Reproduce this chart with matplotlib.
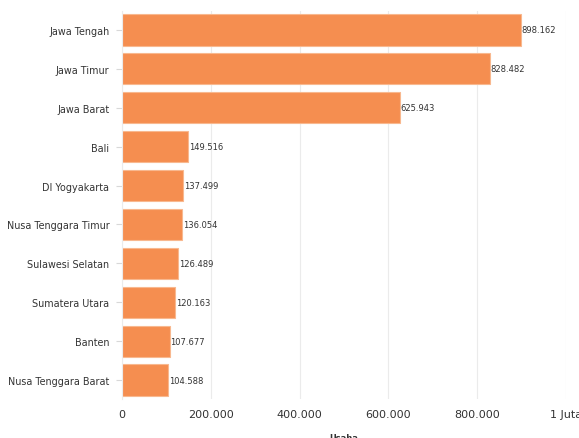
import matplotlib.pyplot as plt

provinces = ['Jawa Tengah', 'Jawa Timur', 'Jawa Barat', 'Bali', 'DI Yogyakarta',
             'Nusa Tenggara Timur', 'Sulawesi Selatan', 'Sumatera Utara', 'Banten',
             'Nusa Tenggara Barat']
usaha = [898162, 828482, 625943, 149516, 137499, 136054, 126489, 120163, 107677, 104588]
xticks = [0, 200000, 400000, 600000, 800000, 1000000]
xtick_labels = ['0', '200.000', '400.000', '600.000', '800.000', '1 Juta']

fig = plt.figure(figsize=(5.79, 4.39), dpi=100)
ax = fig.add_axes([0.2107, 0.0877, 0.7668, 0.8861])

ypos = list(range(len(provinces)))
ax.barh(ypos, usaha, height=0.8, color='#F58E50', edgecolor='#F8B88F', linewidth=0.8, zorder=2)

# value labels
for y, v in zip(ypos, usaha):
    ax.text(v + 1500, y, f'{v:,}'.replace(',', '.'), va='center', ha='left',
            fontsize=6, color='#333333', zorder=3)

ax.set_ylim(len(provinces) - 0.5, -0.5)
ax.set_xlim(0, 1000000)
ax.set_yticks(ypos)
ax.set_yticklabels(provinces, fontsize=6.9, color='#333333')
ax.set_xticks(xticks)
ax.set_xticklabels(xtick_labels, fontsize=8, color='#333333')

ax.grid(axis='x', color='#ebebeb', linewidth=0.8, zorder=0)
ax.tick_params(axis='x', length=0, pad=7)
ax.tick_params(axis='y', length=4, color='#d8d8d8', pad=5)
for s in ['top', 'right', 'bottom']:
    ax.spines[s].set_visible(False)
ax.spines['left'].set_color('#ebebeb')

fig.text(0.594, -0.008, 'Usaha', fontsize=6, fontweight='bold', ha='center', va='bottom',
         color='#333333')

fig.savefig('out.png', dpi=100)
